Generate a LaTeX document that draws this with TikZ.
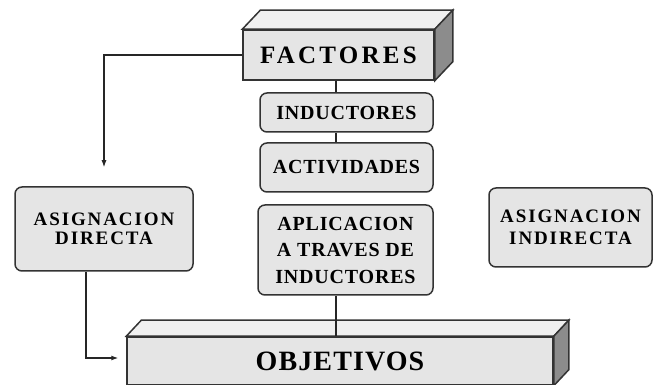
\documentclass[tikz,border=0pt]{standalone}
\usepackage{fontspec}
\setmainfont{Liberation Serif}
\usetikzlibrary{calc,arrows.meta}
\newcommand{\lbl}[3]{\fontsize{#1}{#2}\selectfont\bfseries\addfontfeature{LetterSpace=#3}}
\def\slabfaces(#1)(#2,#3){
	\draw[line width=1.5pt, draw=black!80, fill=black!6] (#1.north west) -- ++(#2,#3) -- ($(#1.north east)+(#2,#3)$) -- (#1.north east) -- cycle;
	\draw[line width=1.5pt, draw=black!80, fill=black!45] (#1.north east) -- ++(#2,#3) -- ($(#1.south east)+(#2,#3)$) -- (#1.south east) -- cycle;}
\tikzset{
	rbox/.style={draw=black!80, line width=1.5pt, rounded corners=7pt, fill=black!10, align=center, inner sep=0pt},
	slab/.style={draw=black!80, line width=1.5pt, fill=black!10, inner sep=0pt},
	link/.style={line width=1.2pt, color=black!85},
}

\begin{document}
\begin{tikzpicture}[x=1pt, y=1pt]
			%%%%% START %%%%%
			
			\fill[white] (0,0) rectangle (657,-385);
			\useasboundingbox (0,0) rectangle (657,-385);
			\coordinate (spine) at (336,0);
			
			\node[slab, minimum width=191, minimum height=50, font=\lbl{25}{28}{13}] (factores) at (338.5,-55) {FACTORES};
			\slabfaces(factores)(18,19)
			
			\node[rbox, minimum width=173, minimum height=39, font=\lbl{20}{26}{4}] (inductores) at (346.5,-112.5) {INDUCTORES};
			\node[rbox, minimum width=173, minimum height=49, font=\lbl{20}{26}{3.5}] (actividades) at (346.5,-167.5) {ACTIVIDADES};
			\node[rbox, minimum width=175, minimum height=90, font=\lbl{20}{26.5}{4}] (aplicacion) at (345.5,-250) {APLICACION\\A TRAVES DE\\INDUCTORES};
			
			\node[rbox, minimum width=178, minimum height=84, font=\lbl{19}{18.5}{10}] (asigdir) at (104,-229) {ASIGNACION\\DIRECTA};
			\node[rbox, minimum width=163, minimum height=79, font=\lbl{19}{21.5}{10}] (asigind) at (570.5,-227.5) {ASIGNACION\\INDIRECTA};
			
			\node[slab, minimum width=426, minimum height=48, font=\lbl{28}{30}{4}] (objetivos) at (340,-361) {OBJETIVOS};
			\slabfaces(objetivos)(15,16)
			
			\draw[link] (factores.south -| spine) -- (inductores.north -| spine);
			\draw[link] (inductores.south -| spine) -- (actividades.north -| spine);
			\draw[link] (aplicacion.south -| spine) -- (objetivos.north -| spine);
			
			\draw[link, -{Latex[length=7pt, width=5pt]}, shorten >=19pt] (factores.west) -| (asigdir.north);
			\draw[link, -{Latex[length=7pt, width=5pt]}, shorten >=8pt] ([xshift=-18pt]asigdir.south) |- ([yshift=3pt]objetivos.west);
			
			%%%%% END %%%%%
\end{tikzpicture}
\end{document}
